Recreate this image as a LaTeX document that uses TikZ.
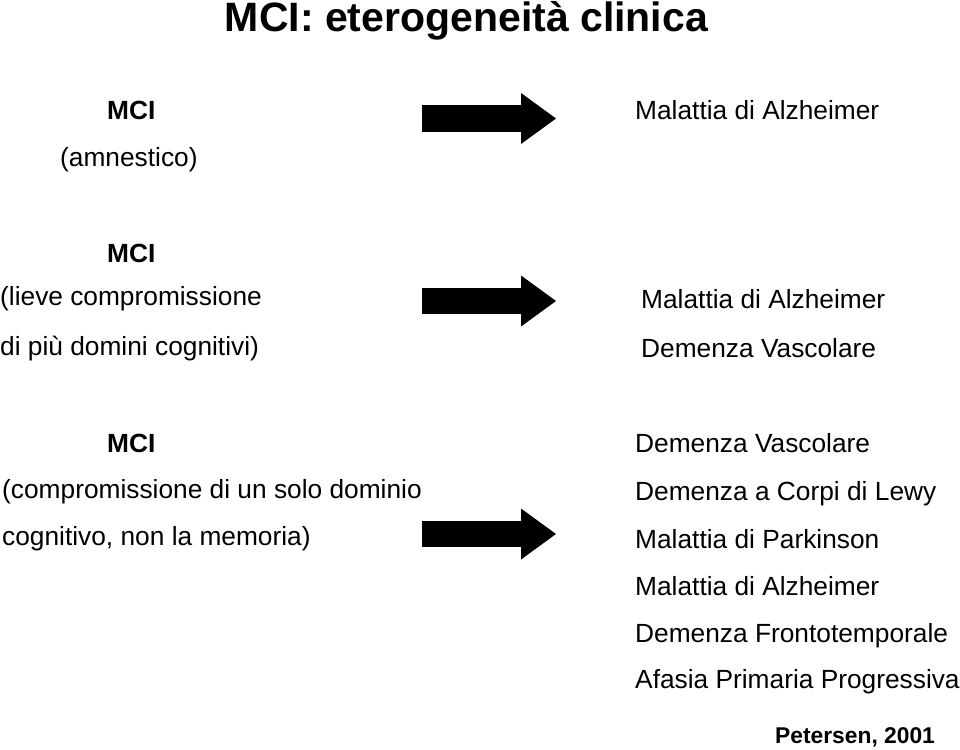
\documentclass[tikz,border=0pt]{standalone}
\usepackage{fontspec}
\setmainfont{Liberation Sans}
\usetikzlibrary{arrows.meta}

\begin{document}
\begin{tikzpicture}
		[x=1pt, y=-1pt,
		every node/.style={inner sep=0pt, anchor=base west, font=\fontsize{26.3}{30}\selectfont},
		mci/.style={font=\fontsize{26.3}{30}\selectfont\bfseries},
		bigarrow/.style={line width=26pt, -{Triangle[length=35pt, width=51pt, line width=0pt]}}]
		\useasboundingbox (0,0) rectangle (960,749);
		\node (title) [anchor=base, font=\fontsize{41}{48}\selectfont\bfseries] at (466.5,32) {MCI: eterogeneità clinica};
		% amnestico
		\node (mci1) [mci] at (107,119) {MCI};
		\node (amn) at (60,166) {(amnestico)};
		\node (ad1) at (635,119) {Malattia di Alzheimer};
		% piu domini
		\node (mci2) [mci] at (107,262) {MCI};
		\node (lieve) at (0,305) {(lieve compromissione};
		\node (piu) at (0,355) {di più domini cognitivi)};
		\node (ad2) at (641,308) {Malattia di Alzheimer};
		\node (dv2) at (641,357) {Demenza Vascolare};
		% singolo dominio
		\node (mci3) [mci] at (107,452) {MCI};
		\node (solo) at (2,498) {(compromissione di un solo dominio};
		\node (cogn) at (2,545) {cognitivo, non la memoria)};
		\node (dv3) at (635,452) {Demenza Vascolare};
		\node (lewy) at (635,500) {Demenza a Corpi di Lewy};
		\node (park) at (635,548) {Malattia di Parkinson};
		\node (ad3) at (635,595) {Malattia di Alzheimer};
		\node (ftd) at (635,642) {Demenza Frontotemporale};
		\node (app) at (635,688) {Afasia Primaria Progressiva};
		\node (ref) [font=\fontsize{22.8}{26}\selectfont\bfseries] at (775,743) {Petersen, 2001};
		\coordinate (a1s) at (422,118.5);
		\coordinate (a1e) at (556,118.5);
		\coordinate (a2s) at (422,301);
		\coordinate (a2e) at (556,301);
		\coordinate (a3s) at (422,534);
		\coordinate (a3e) at (556,534);
		\draw [bigarrow] (a1s) -- (a1e);
		\draw [bigarrow] (a2s) -- (a2e);
		\draw [bigarrow] (a3s) -- (a3e);
	\end{tikzpicture}
\end{document}
